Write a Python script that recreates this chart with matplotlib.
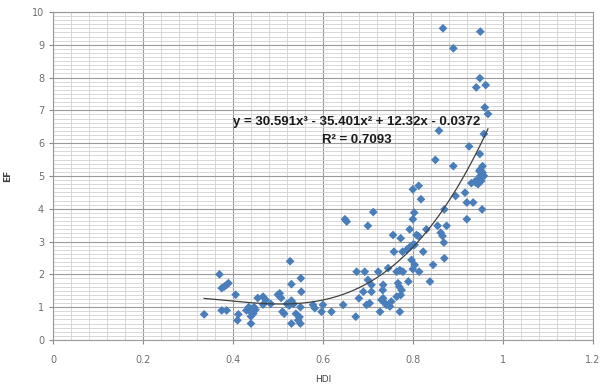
"""
HDI vs EF scatter with cubic trendline (Excel-style chart recreation).
"""
import numpy as np
import matplotlib
matplotlib.use('Agg')
import matplotlib.pyplot as plt
from matplotlib.ticker import MultipleLocator

# HDI values (x)
hdi = [
    0.336, 0.37, 0.375, 0.381, 0.386, 0.39, 0.375, 0.386, 0.406, 0.412, 0.41,
    0.43, 0.435, 0.44, 0.445, 0.45, 0.44, 0.447, 0.44,
    0.455, 0.467, 0.473, 0.467, 0.484, 0.50, 0.504, 0.507, 0.51, 0.514,
    0.527, 0.53, 0.52, 0.53, 0.535, 0.525, 0.53,
    0.54, 0.545, 0.55, 0.548, 0.55, 0.551, 0.552,
    0.578, 0.582, 0.60, 0.597, 0.619, 0.645, 0.649, 0.653, 0.673,
    0.675, 0.693, 0.70, 0.708, 0.723, 0.712, 0.70, 0.68, 0.69,
    0.697, 0.704, 0.708, 0.727,
    0.734, 0.733, 0.734, 0.741, 0.749, 0.752, 0.745, 0.756, 0.758,
    0.764, 0.767, 0.764, 0.773, 0.777, 0.787, 0.793, 0.80, 0.804, 0.808,
    0.797, 0.804, 0.80, 0.814, 0.823, 0.845, 0.838,
    0.771, 0.778, 0.77, 0.775, 0.773, 0.79, 0.73, 0.738, 0.771,
    0.85, 0.89, 0.80, 0.813, 0.818, 0.803, 0.80, 0.793, 0.83,
    0.855, 0.875, 0.862, 0.866, 0.869, 0.812, 0.87,
    0.895, 0.916, 0.92, 0.934, 0.92, 0.954, 0.87,
    0.94, 0.945, 0.95, 0.955, 0.95, 0.955, 0.945, 0.958, 0.952, 0.948, 0.93, 0.938,
    0.949, 0.925, 0.958, 0.858, 0.96, 0.967, 0.941, 0.949, 0.962,
    0.867, 0.95, 0.89,
]

# EF values (y)
ef = [
    0.78, 2.0, 1.58, 1.63, 1.68, 1.73, 0.9, 0.9, 1.38, 0.78, 0.6,
    0.9, 1.0, 0.85, 0.8, 0.92, 0.72, 1.0, 0.5,
    1.28, 1.32, 1.22, 1.08, 1.1, 1.38, 1.42, 1.28, 0.86, 0.8,
    2.4, 1.7, 1.1, 1.2, 1.1, 1.05, 0.5,
    0.8, 0.6, 0.5, 0.7, 1.0, 1.88, 1.47,
    1.07, 0.97, 1.07, 0.86, 0.86, 1.07, 3.68, 3.61, 0.71,
    2.08, 2.08, 1.83, 1.68, 2.08, 3.9, 3.48, 1.27, 1.47,
    1.07, 1.12, 1.47, 0.86,
    1.68, 1.52, 1.27, 1.07, 1.02, 1.17, 2.19, 3.2, 2.69,
    2.08, 1.73, 1.32, 3.1, 2.69, 2.76, 2.83, 2.9, 2.9, 3.2,
    2.44, 2.29, 2.16, 2.08, 2.69, 2.29, 1.78,
    2.13, 2.08, 1.62, 1.52, 1.37, 1.78, 1.22, 1.12, 0.86,
    5.49, 5.3, 4.59, 4.7, 4.29, 3.88, 3.68, 3.37, 3.37,
    3.48, 3.48, 3.27, 3.17, 2.97, 3.17, 3.98,
    4.39, 4.49, 4.19, 4.19, 3.68, 3.98, 2.49,
    4.8, 4.9, 5.0, 5.1, 5.2, 5.3, 4.75, 5.0, 4.85, 5.15, 4.78, 4.83,
    5.67, 5.9, 6.28, 6.38, 7.09, 6.89, 7.7, 7.98, 7.77,
    9.5, 9.4, 8.89,
]

# trendline coefficients as printed on the chart (highest power first)
coeffs = [30.591, -35.401, 12.32, -0.0372]
r_squared = 0.7093

fig = plt.figure(figsize=(6.03, 3.85), dpi=100)
ax = fig.add_axes([0.088, 0.117, 0.895, 0.852])

ax.set_xlim(0, 1.2)
ax.set_ylim(0, 10)
ax.xaxis.set_major_locator(MultipleLocator(0.2))
ax.xaxis.set_minor_locator(MultipleLocator(0.04))
ax.yaxis.set_major_locator(MultipleLocator(1))
ax.yaxis.set_minor_locator(MultipleLocator(0.125))
ax.grid(which='major', color='#9a9a9a', lw=0.8)
ax.grid(which='minor', color='#d2d2d2', lw=0.6)
ax.set_axisbelow(True)

for side in ax.spines.values():
    side.set_color('#9a9a9a')
    side.set_linewidth(0.8)

ax.tick_params(which='major', length=3, color='#8a8a8a', labelsize=7, labelcolor='#6f6f6f')
ax.tick_params(axis='x', pad=8)
ax.tick_params(which='minor', length=0)
ax.set_xticks(np.arange(0, 1.21, 0.2))
ax.set_xticklabels(['0', '0.2', '0.4', '0.6', '0.8', '1', '1.2'])

ax.scatter(hdi, ef, marker='D', s=20, color='#4a7ebb', edgecolors='none', zorder=3)

# polynomial trendline over the data range
xs = np.linspace(min(hdi), max(hdi), 200)
ax.plot(xs, np.polyval(coeffs, xs), color='#404040', lw=0.9, zorder=4)

eq = 'y = 30.591x³ - 35.401x² + 12.32x - 0.0372'
ax.text(0.676, 6.65, eq, ha='center', va='center', fontsize=9.5,
        fontweight='bold', family='Liberation Sans', color='#1a1a1a', zorder=5)
ax.text(0.676, 6.1, f'R² = {r_squared}', ha='center', va='center', fontsize=9.5,
        fontweight='bold', family='Liberation Sans', color='#1a1a1a', zorder=5)

ax.set_xlabel('HDI', fontsize=6.5, color='#404040', labelpad=7)
ax.set_ylabel('EF', fontsize=6.5, color='#404040', fontweight='bold', labelpad=14)

plt.savefig('out.png', dpi=100)
plt.close()
